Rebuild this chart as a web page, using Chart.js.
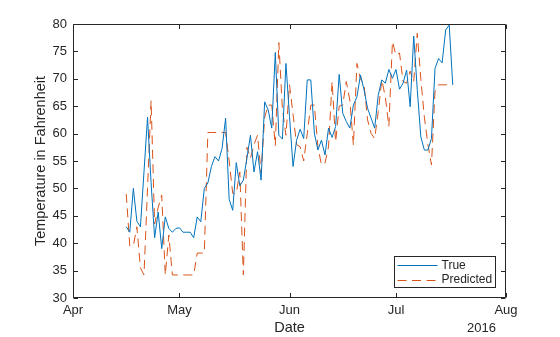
<!DOCTYPE html>
<html>
<head>
<meta charset="utf-8">
<script src="https://cdn.jsdelivr.net/npm/chart.js@4/dist/chart.umd.min.js"></script>
<style>
  html, body { margin: 0; padding: 0; background: #fff; }
  #wrap { width: 560px; height: 337px; }
</style>
</head>
<body>
<div id="wrap"><canvas id="c" width="560" height="337"></canvas></div>
<script>
// Daily observations, 16 April – 17 July 2016
const dates = [
  '2016-04-16','2016-04-17','2016-04-18','2016-04-19','2016-04-20','2016-04-21','2016-04-22','2016-04-23',
  '2016-04-24','2016-04-25','2016-04-26','2016-04-27','2016-04-28','2016-04-29','2016-04-30','2016-05-01',
  '2016-05-02','2016-05-03','2016-05-04','2016-05-05','2016-05-06','2016-05-07','2016-05-08','2016-05-09',
  '2016-05-10','2016-05-11','2016-05-12','2016-05-13','2016-05-14','2016-05-15','2016-05-16','2016-05-17',
  '2016-05-18','2016-05-19','2016-05-20','2016-05-21','2016-05-22','2016-05-23','2016-05-24','2016-05-25',
  '2016-05-26','2016-05-27','2016-05-28','2016-05-29','2016-05-30','2016-05-31','2016-06-01','2016-06-02',
  '2016-06-03','2016-06-04','2016-06-05','2016-06-06','2016-06-07','2016-06-08','2016-06-09','2016-06-10',
  '2016-06-11','2016-06-12','2016-06-13','2016-06-14','2016-06-15','2016-06-16','2016-06-17','2016-06-18',
  '2016-06-19','2016-06-20','2016-06-21','2016-06-22','2016-06-23','2016-06-24','2016-06-25','2016-06-26',
  '2016-06-27','2016-06-28','2016-06-29','2016-06-30','2016-07-01','2016-07-02','2016-07-03','2016-07-04',
  '2016-07-05','2016-07-06','2016-07-07','2016-07-08','2016-07-09','2016-07-10','2016-07-11','2016-07-12',
  '2016-07-13','2016-07-14','2016-07-15','2016-07-16','2016-07-17'
];

// Measured temperature (°F)
const trueTemps = [
  43, 42, 50, 44, 43, 53, 63, 51,
  41, 45.7, 39, 44.8, 42.7, 42, 42.7, 42.8,
  42, 42, 42, 41, 44.8, 43.9, 50, 51,
  54, 55.8, 55, 57.3, 62.8, 48, 46, 54.7,
  50.5, 51.5, 55.5, 59.7, 53, 56.7, 51.5, 65.8,
  64.3, 61, 74.8, 59.7, 59, 72.8, 63.1, 54,
  58.8, 60.8, 59.1, 69.8, 69.8, 60.1, 57, 58.8,
  56.1, 61, 59.3, 61.3, 70.8, 63.7, 62.2, 61,
  65.2, 66.7, 70.7, 68, 64.6, 62.8, 61, 67,
  69.8, 69.2, 71.7, 70.1, 71.7, 68.1, 69.2, 71.6,
  64.9, 77.8, 68, 59.4, 57, 57, 59.1, 71.9,
  73.7, 72.9, 78.9, 79.8, 68.9
];

// Model forecast (°F)
const predictedTemps = [
  49, 39.5, 39.5, 43, 35.5, 34.2, 50, 66,
  43.5, 46.5, 48.8, 34.2, 41.5, 34.2, 34.2, 34.2,
  34.2, 34.2, 34.2, 34.2, 38.2, 38.2, 38.2, 60.2,
  60.2, 60.2, 60.2, 60.2, 60.2, 55, 49.1, 49.1,
  53, 34.2, 57.5, 55.5, 58, 59.7, 52.8, 63,
  65.2, 65.2, 57.8, 76.6, 64.5, 59.7, 68.9, 63.5,
  58, 57.6, 55, 60, 65.2, 65.2, 57.6, 54.3,
  54.6, 57.6, 69.5, 58.5, 65, 65.2, 69.5, 66.1,
  57.9, 72.8, 70, 68.9, 62.5, 60, 59.1, 64,
  69.8, 66.7, 61.3, 76.8, 74.3, 74.7, 69.5, 69.2,
  71.4, 69.5, 78.3, 70, 63, 58, 54.3, 67.7,
  68.9, 68.9, 68.9, 68.9, 68.9
];

// Month ticks on the date axis
const monthTickDates = ['2016-04-01','2016-05-01','2016-06-01','2016-07-01','2016-08-01'];
const monthTickLabels = ['Apr','May','Jun','Jul','Aug'];
const yearLabel = '2016';
const yTicks = [30, 35, 40, 45, 50, 55, 60, 65, 70, 75, 80];

const DAY = 86400000;
const origin = Date.parse(monthTickDates[0]);
const dayOf = d => Math.round((Date.parse(d) - origin) / DAY);
const monthTickDays = monthTickDates.map(dayOf);

const INK = '#262626';
const BLUE = '#0072BD';
const ORANGE = '#D95319';
const FONT = '"Liberation Sans", Arial, Helvetica, sans-serif';

// Box around the axes with inward tick marks on all four sides, plus the year label
const axesBox = {
  id: 'axesBox',
  afterDatasetsDraw(chart) {
    const { ctx, chartArea: a, scales: { x, y } } = chart;
    const L = Math.round(a.left) + 0.5, R = Math.round(a.right) - 0.5;
    const T = Math.round(a.top) + 0.5, B = Math.round(a.bottom) - 0.5;
    const len = 4.5;
    ctx.save();
    ctx.strokeStyle = INK;
    ctx.lineWidth = 1;
    ctx.beginPath();
    ctx.rect(L, T, R - L, B - T);
    x.ticks.forEach(t => {
      const px = Math.round(x.getPixelForValue(t.value)) + 0.5;
      ctx.moveTo(px, B); ctx.lineTo(px, B - len);
      ctx.moveTo(px, T); ctx.lineTo(px, T + len);
    });
    y.ticks.forEach(t => {
      const py = Math.round(y.getPixelForValue(t.value)) + 0.5;
      ctx.moveTo(L, py); ctx.lineTo(L + len, py);
      ctx.moveTo(R, py); ctx.lineTo(R - len, py);
    });
    ctx.stroke();
    ctx.fillStyle = INK;
    ctx.font = '13px ' + FONT;
    ctx.textAlign = 'right';
    ctx.textBaseline = 'middle';
    ctx.fillText(yearLabel, x.getPixelForValue(monthTickDays[monthTickDays.length - 1]) - 10, 328);
    ctx.restore();
  }
};

// Legend in the lower-right corner of the plot area
const boxLegend = {
  id: 'boxLegend',
  afterDraw(chart) {
    const { ctx, chartArea: a } = chart;
    const w = 101, h = 31;
    const bx = Math.round(a.right) - 112 + 0.5, by = Math.round(a.bottom) - 42 + 0.5;
    ctx.save();
    ctx.fillStyle = '#fff';
    ctx.fillRect(bx, by, w, h);
    ctx.strokeStyle = INK;
    ctx.lineWidth = 1;
    ctx.strokeRect(bx, by, w, h);
    ctx.font = '12px ' + FONT;
    ctx.textBaseline = 'middle';
    ctx.textAlign = 'left';
    chart.data.datasets.forEach((ds, i) => {
      const cy = by + 8.5 + i * 14.5;
      ctx.strokeStyle = ds.borderColor;
      ctx.lineWidth = ds.borderWidth;
      ctx.setLineDash(ds.borderDash || []);
      ctx.beginPath();
      ctx.moveTo(bx + 3, Math.round(cy) + 0.5);
      ctx.lineTo(bx + 43, Math.round(cy) + 0.5);
      ctx.stroke();
      ctx.setLineDash([]);
      ctx.fillStyle = INK;
      ctx.fillText(ds.label, bx + 47, cy + 0.5);
    });
    ctx.restore();
  }
};

const toPoints = vals => vals.map((v, i) => ({ x: dayOf(dates[i]), y: v }));

new Chart(document.getElementById('c'), {
  type: 'line',
  data: {
    datasets: [
      { label: 'True', data: toPoints(trueTemps), borderColor: BLUE, borderWidth: 1,
        pointRadius: 0, tension: 0, fill: false },
      { label: 'Predicted', data: toPoints(predictedTemps), borderColor: ORANGE, borderWidth: 1,
        borderDash: [9, 5.5], pointRadius: 0, tension: 0, fill: false }
    ]
  },
  options: {
    responsive: false,
    animation: false,
    events: [],
    layout: { padding: { top: 24, right: 54, left: 0, bottom: 0 } },
    plugins: { legend: { display: false }, tooltip: { enabled: false } },
    scales: {
      x: {
        type: 'linear',
        min: monthTickDays[0],
        max: monthTickDays[monthTickDays.length - 1],
        afterBuildTicks: s => { s.ticks = monthTickDays.map(v => ({ value: v })); },
        afterFit: s => { s.height = 39; },
        grid: { display: false, drawTicks: false },
        border: { display: false },
        ticks: {
          color: INK, padding: 5, maxRotation: 0, autoSkip: false,
          font: { family: FONT, size: 13 },
          callback: v => monthTickLabels[monthTickDays.indexOf(v)]
        },
        title: { display: true, text: 'Date', color: INK, padding: 0,
                 font: { family: FONT, size: 14.5 } }
      },
      y: {
        min: yTicks[0],
        max: yTicks[yTicks.length - 1],
        afterBuildTicks: s => { s.ticks = yTicks.map(v => ({ value: v })); },
        afterFit: s => { s.width = 73; },
        grid: { display: false, drawTicks: false },
        border: { display: false },
        ticks: { color: INK, padding: 6, font: { family: FONT, size: 13 } },
        title: { display: true, text: 'Temperature in Fahrenheit', color: INK,
                 padding: { top: 32, bottom: 0 }, font: { family: FONT, size: 14.5 } }
      }
    }
  },
  plugins: [axesBox, boxLegend]
});
</script>
</body>
</html>
